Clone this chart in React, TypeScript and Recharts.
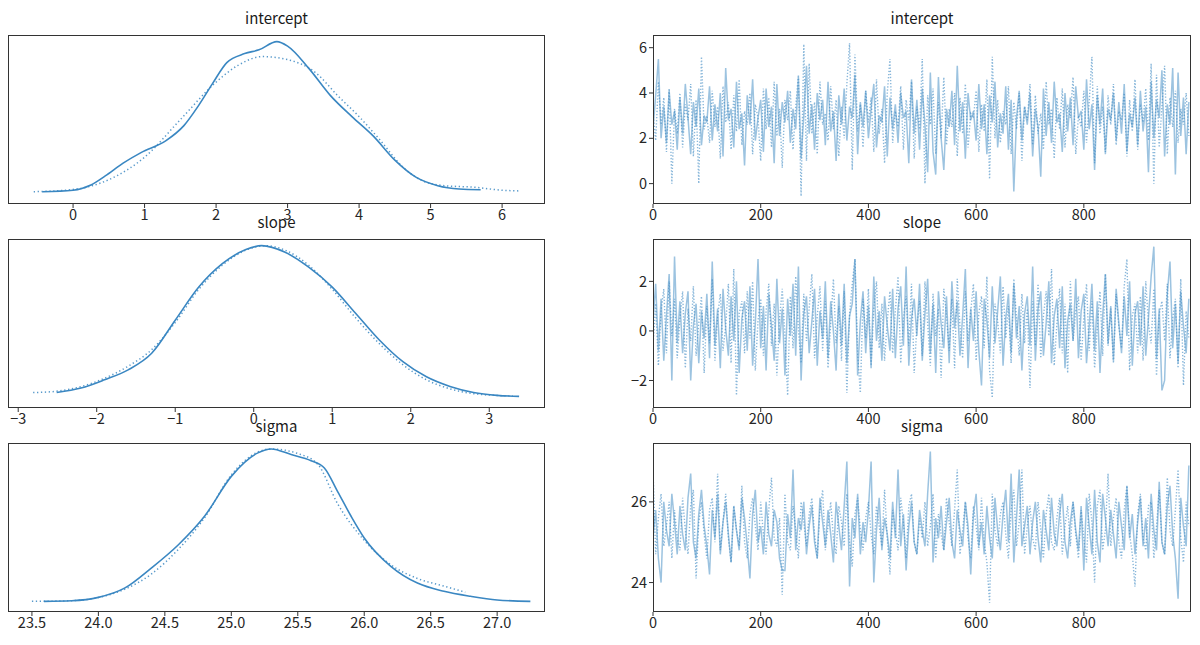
import React from 'react';
import { LineChart, Line, XAxis, YAxis } from 'recharts';

// ---- posterior density (relative height), chain 0 solid, chain 1 dotted ----
const interceptKdeX0 = [-0.43, 0.0, 0.25, 0.45, 0.7, 0.95, 1.3, 1.55, 1.75, 1.95, 2.15, 2.4, 2.6, 2.85, 3.0, 3.3, 3.6, 3.9, 4.2, 4.5, 4.8, 5.1, 5.4, 5.7];
const interceptKdeY0 = [0.0, 0.01, 0.045, 0.105, 0.19, 0.26, 0.34, 0.44, 0.57, 0.72, 0.86, 0.92, 0.945, 1.0, 0.97, 0.82, 0.64, 0.5, 0.37, 0.21, 0.095, 0.04, 0.018, 0.013];
const interceptKdeX1 = [-0.55, 0.0, 0.5, 1.0, 1.5, 2.0, 2.3, 2.65, 3.0, 3.4, 3.7, 4.0, 4.3, 4.6, 4.9, 5.2, 5.6, 6.0, 6.25];
const interceptKdeY1 = [0.0, 0.015, 0.08, 0.23, 0.48, 0.73, 0.84, 0.9, 0.88, 0.79, 0.64, 0.5, 0.34, 0.17, 0.07, 0.04, 0.03, 0.01, 0.005];

const slopeKdeX0 = [-2.51, -2.2, -1.9, -1.6, -1.3, -1.0, -0.7, -0.4, -0.1, 0.1, 0.4, 0.7, 1.0, 1.3, 1.6, 1.9, 2.2, 2.5, 2.8, 3.1, 3.38];
const slopeKdeY0 = [0.026, 0.055, 0.11, 0.176, 0.286, 0.505, 0.725, 0.88, 0.974, 1.0, 0.956, 0.857, 0.725, 0.55, 0.374, 0.23, 0.13, 0.066, 0.026, 0.007, 0.0];
const slopeKdeX1 = [-2.81, -2.5, -2.2, -1.9, -1.6, -1.3, -1.0, -0.7, -0.4, -0.1, 0.15, 0.4, 0.7, 1.0, 1.3, 1.6, 1.9, 2.2, 2.5, 2.8, 3.1, 3.3];
const slopeKdeY1 = [0.025, 0.035, 0.065, 0.12, 0.2, 0.31, 0.49, 0.71, 0.87, 0.97, 1.0, 0.97, 0.87, 0.71, 0.52, 0.35, 0.21, 0.11, 0.05, 0.018, 0.006, 0.002];

const sigmaKdeX0 = [23.59, 23.8, 24.0, 24.2, 24.4, 24.6, 24.8, 25.0, 25.2, 25.3, 25.45, 25.6, 25.7, 25.8, 25.9, 26.0, 26.2, 26.4, 26.6, 26.8, 27.0, 27.25];
const sigmaKdeY0 = [0.0, 0.004, 0.026, 0.088, 0.22, 0.37, 0.56, 0.82, 0.974, 1.0, 0.963, 0.923, 0.875, 0.72, 0.56, 0.416, 0.23, 0.12, 0.066, 0.033, 0.009, 0.0];
const sigmaKdeX1 = [23.5, 23.8, 24.0, 24.2, 24.4, 24.6, 24.8, 25.0, 25.2, 25.3, 25.5, 25.65, 25.8, 26.0, 26.2, 26.4, 26.6, 26.76];
const sigmaKdeY1 = [0.0, 0.004, 0.025, 0.08, 0.18, 0.34, 0.55, 0.83, 0.98, 1.0, 0.97, 0.9, 0.64, 0.4, 0.24, 0.15, 0.1, 0.06];

// ---- traces, every 5th draw ----
const DRAW_STEP = 5;

const interceptChain0 = [
  2.4, 3.9, 5.5, 2.0, 3.4, 1.8, 4.1, 2.6, 3.2, 1.5,
  3.8, 2.2, 4.4, 2.9, 1.3, 3.6, 2.5, 4.2, 1.7, 3.0,
  2.7, 4.3, 1.9, 3.5, 2.3, 4.0, 1.2, 5.1, 2.8, 3.3,
  1.6, 4.5, 2.4, 3.1, 0.8, 3.9, 2.6, 4.6, 1.9, 2.9,
  3.7, 1.4, 4.2, 2.5, 3.4, 0.9, 4.4, 2.1, 3.6, 2.7,
  4.1, 1.8, 3.3, 2.4, 4.7, 1.1, 3.0, 5.2, 2.2, 3.5,
  1.5, 4.0, 2.8, 3.7, 1.7, 4.5, 2.3, 3.2, 1.0, 3.9,
  2.6, 4.2, 1.9, 3.4, 2.9, 4.8, 1.3, 3.6, 2.5, 4.1,
  2.0, 3.3, 4.4, 1.6, 3.0, 2.7, 4.3, 1.2, 3.8, 2.4,
  3.5, 1.8, 4.0, 2.9, 3.2, 0.9, 4.6, 2.2, 3.7, 1.5,
  4.2, 2.6, 0.5, 4.9, 1.4, 0.4, 4.7, 2.0, 0.6, 3.3,
  2.5, 4.1, 1.7, 5.2, 2.3, 3.6, 1.1, 4.0, 2.8, 3.2,
  1.9, 4.4, 2.4, 3.5, 1.3, 3.9, 2.7, 4.5, 1.6, 3.1,
  2.2, 4.3, 1.5, 3.7, -0.35, 2.9, 4.1, 1.9, 3.4, 2.6,
  4.0, 1.2, 3.3, 2.5, 0.3, 4.2, 2.1, 3.6, 1.8, 4.5,
  2.7, 3.1, 1.4, 4.0, 2.3, 3.8, 1.7, 4.3, 2.9, 3.2,
  1.5, 4.6, 2.4, 3.5, 0.6, 3.9, 2.6, 4.2, 1.3, 3.3,
  2.8, 4.0, 1.9, 3.6, 2.2, 4.4, 1.4, 3.1, 2.5, 3.8,
  1.7, 4.1, 2.3, 3.4, 0.5, 4.5, 2.0, 3.7, 2.9, 5.0,
  1.2, 3.5, 2.6, 5.1, 0.4, 4.9, 2.1, 3.8, 1.3, 3.6,
];
const interceptChain1 = [
  3.1, 1.9, 4.5, 2.6, 3.8, 1.4, 4.2, 0.0, 3.3, 2.2,
  4.0, 1.6, 3.5, 2.8, 4.4, 1.2, 3.7, 0.0, 5.6, 2.4,
  3.0, 1.8, 4.1, 2.5, 3.4, 1.1, 4.3, 2.7, 3.6, 1.5,
  3.9, 2.3, 4.6, 1.7, 3.2, 2.6, 4.0, 1.3, 3.5, 2.9,
  1.0, 4.2, 2.4, 3.8, 1.6, 4.5, 2.1, 3.3, 0.7, 3.7,
  2.8, 4.1, 1.5, 3.4, 4.8, -0.55, 6.15, 1.0, 5.3, 2.2,
  3.6, 1.3, 4.5, 2.6, 3.1, 1.9, 4.3, 2.4, 3.7, 1.2,
  3.4, 2.0, 4.4, 6.2, 0.6, 5.7, 2.3, 3.5, 1.6, 4.1,
  2.7, 3.8, 1.4, 4.6, 2.2, 3.3, 0.9, 4.0, 5.5, 1.8,
  3.2, 2.5, 4.3, 1.5, 3.7, 2.8, 4.5, 1.1, 3.4, 2.4,
  5.5, 0.0, 3.9, 2.6, 4.2, 1.3, 3.6, 2.0, 4.7, 1.7,
  3.3, 2.5, 4.0, 1.2, 3.8, 2.2, 4.4, 1.6, 3.1, 2.9,
  4.1, 1.4, 3.5, 2.3, 4.6, 0.2, 5.6, 2.0, 3.7, 1.8,
  3.2, 2.6, 4.3, 1.3, 3.6, 2.4, 4.0, 1.0, 3.4, 2.8,
  4.4, 1.7, 3.9, 2.2, 3.1, 1.5, 4.5, 2.6, 3.3, 1.1,
  3.8, 2.4, 4.2, 1.6, 3.5, 2.9, 4.7, 1.3, 3.0, 2.5,
  4.1, 1.8, 3.6, 5.6, 0.9, 4.3, 2.2, 3.4, 1.4, 3.9,
  2.6, 4.4, 1.7, 3.2, 2.8, 4.0, 1.2, 3.7, 2.3, 4.6,
  1.5, 3.5, 2.7, 4.2, 1.9, 5.3, 0.0, 4.8, 1.6, 3.4,
  5.2, 1.3, 3.8, 2.5, 4.1, 1.8, 3.3, 2.6, 4.0, 2.1,
];

const slopeChain0 = [
  0.4, 1.9, -0.8, 1.3, -1.2, 0.6, 2.3, -2.0, 3.0, -0.5,
  1.2, -0.9, 0.7, 1.6, -2.0, 0.2, 1.1, -1.3, 0.8, -0.3,
  1.5, -1.1, 2.8, -0.6, 0.9, -1.5, 1.7, 0.1, -1.0, 1.4,
  -0.4, 2.0, -1.7, 0.5, 1.2, -0.8, 1.8, -1.4, 0.3, 2.9,
  -0.7, 1.0, -1.6, 1.5, 0.2, -1.2, 2.1, -0.5, 0.9, -1.8,
  1.3, -0.2, 1.9, -1.0, 2.6, -2.0, 0.7, 1.4, -0.9, 0.4,
  1.7, -1.4, 0.8, -0.3, 2.0, -1.1, 1.2, 0.0, -1.6, 1.5,
  -0.6, 1.9, -1.3, 0.6, 1.1, 2.9, -1.8, 0.4, 1.6, -0.9,
  1.0, -1.5, 2.2, -0.4, 0.8, -1.2, 1.4, 0.2, -0.8, 1.7,
  -1.1, 0.9, 1.8, -0.6, 2.6, -1.4, 0.5, 1.3, -0.2, 1.9,
  -1.2, 0.7, 2.1, -0.9, 1.1, -1.7, 1.6, 0.3, -0.7, 1.4,
  -1.3, 2.0, 0.1, 1.2, -1.0, 0.6, 2.5, -1.5, 0.9, -0.4,
  1.6, -0.8, -2.2, 1.3, 0.4, -1.1, 1.8, -0.5, 0.8, 2.2,
  -1.4, 0.5, 1.5, -0.9, 1.9, -0.3, 1.0, -1.6, 0.7, 1.4,
  -0.6, 2.6, -1.2, 0.9, 1.6, -1.0, 0.3, 2.0, -1.3, 0.6,
  1.3, -0.7, 1.8, -1.5, 0.4, 1.1, -0.4, 2.1, -1.1, 0.8,
  1.5, -1.3, 0.2, 1.9, -0.8, 1.2, -1.7, 0.6, 2.3, -0.5,
  1.0, -1.2, 1.7, 0.3, -0.9, 1.4, -0.2, 2.0, -1.4, 0.7,
  1.2, -0.6, 1.8, -1.0, 0.5, 2.2, 3.4, -1.1, 0.9, -2.4,
  -2.0, 1.5, 2.8, -0.7, 1.1, -1.3, 1.6, 0.2, -0.9, 1.3,
];
const slopeChain1 = [
  -0.6, 1.1, -1.4, 0.8, 1.7, -0.9, 2.0, -0.2, 1.3, -1.1,
  0.5, 1.6, -1.5, 0.9, -0.4, 1.8, -1.0, 0.3, 1.4, -1.7,
  1.0, -0.5, 2.1, -1.2, 0.6, 1.5, -0.8, 0.2, 1.9, -1.3,
  2.5, -2.6, 0.7, 1.2, -0.9, 1.6, -0.3, 2.0, -1.6, 0.4,
  1.3, -1.0, 0.8, 1.9, -0.6, 1.1, -1.8, 0.5, 1.7, -0.2,
  -2.6, 1.4, -0.7, 2.2, 0.1, -1.3, 1.5, -0.4, 0.9, 2.3,
  -1.1, 0.6, 1.8, -0.8, 1.2, -1.5, 0.3, 2.1, -0.5, 1.0,
  -1.2, 1.6, -2.5, 0.7, 1.9, 2.9, -0.9, -2.5, 1.3, -0.3,
  1.7, -1.4, 0.9, 2.0, -0.7, 1.1, -1.2, 0.4, 1.6, -0.9,
  0.8, 2.2, -1.3, 0.5, 1.4, -0.6, 1.9, -1.7, 0.2, 1.2,
  -1.0, 2.0, 0.3, -1.4, 1.5, -0.2, 0.9, -1.9, 1.7, 0.6,
  -0.8, 1.3, -1.5, 2.1, 0.2, -1.1, 1.6, -0.4, 0.8, 1.9,
  -1.2, 0.7, 1.4, -0.7, 2.2, -1.6, -2.7, 1.1, 0.4, -0.9,
  1.8, -0.3, 1.0, -1.3, 2.1, 0.5, -1.0, 1.5, -0.5, 0.9,
  -2.3, 1.2, -0.6, 1.9, -1.1, 0.6, 1.6, -0.2, 2.5, -1.4,
  0.3, 1.7, -0.9, 1.1, -1.7, 2.0, -0.4, 0.8, 1.4, -1.2,
  0.5, 1.9, -0.8, 1.2, -1.5, 0.1, 1.6, -1.0, 2.3, -0.6,
  0.9, -1.3, 1.5, 0.2, -0.7, 1.8, 2.9, -1.6, 0.6, 1.1,
  -0.9, 1.4, -1.2, 2.0, 0.3, -0.5, 1.7, -1.8, 0.7, 1.2,
  -0.4, 1.9, -1.1, 0.5, 1.3, -1.5, 2.1, -2.2, 0.8, -0.3,
];

const sigmaChain0 = [
  25.1, 25.8, 24.6, 24.0, 26.0, 25.3, 24.9, 26.2, 25.5, 24.7,
  25.9, 25.2, 24.8, 26.1, 26.7, 25.0, 24.6, 25.7, 26.3, 25.4,
  24.9, 24.2, 25.8, 25.1, 26.2, 24.7, 25.5, 26.0, 25.2, 24.5,
  25.9, 25.3, 24.8, 26.1, 25.6, 24.9, 24.1, 25.7, 26.3, 25.0,
  25.4, 24.7, 26.0, 25.2, 24.9, 25.8, 25.5, 24.6, 24.3, 24.3,
  25.7, 25.1, 26.8, 24.8, 25.6, 25.3, 26.0, 24.7, 25.4, 25.9,
  25.0, 24.6, 26.1, 25.5, 24.9, 25.8, 25.2, 24.5, 26.0, 25.4,
  24.8, 25.9, 27.0, 23.9, 25.6, 25.1, 26.2, 24.7, 25.5, 25.0,
  25.8, 27.0, 24.0, 25.3, 26.1, 24.8, 25.6, 25.2, 24.6, 26.0,
  25.1, 26.8, 24.9, 25.7, 24.3, 25.4, 26.0, 25.0, 24.7, 25.8,
  25.3, 24.9, 26.2, 27.25, 24.5, 25.6, 25.1, 25.9, 24.8, 25.5,
  26.1, 25.0, 24.6, 25.8, 25.3, 24.9, 26.0, 25.4, 24.2, 25.7,
  26.2, 24.9, 25.5, 24.7, 25.9, 25.1, 24.6, 26.1, 25.3, 24.8,
  25.7, 26.3, 25.0, 26.7, 24.5, 25.6, 26.8, 24.9, 25.4, 25.9,
  24.7, 25.5, 26.0, 25.1, 24.5, 25.8, 25.3, 24.8, 26.1, 25.2,
  24.9, 25.7, 26.2, 25.0, 24.6, 25.5, 26.0, 25.3, 24.8, 25.9,
  24.3, 26.1, 25.4, 24.7, 26.3, 25.0, 24.5, 26.2, 25.6, 24.9,
  25.8, 25.2, 24.6, 26.0, 25.4, 24.8, 26.4, 25.1, 25.7, 24.7,
  25.5, 26.1, 24.9, 25.6, 24.6, 26.2, 25.3, 24.8, 26.5, 25.0,
  24.7, 25.9, 26.4, 25.2, 24.6, 23.6, 26.1, 25.4, 24.9, 26.9,
];
const sigmaChain1 = [
  26.8, 24.7, 25.6, 26.2, 24.9, 25.4, 26.0, 24.6, 25.8, 25.1,
  24.8, 26.1, 25.3, 24.7, 25.9, 26.3, 24.1, 25.5, 26.0, 25.2,
  24.6, 25.8, 26.1, 25.0, 26.7, 24.8, 25.5, 26.2, 25.1, 24.5,
  25.9, 25.3, 24.9, 26.4, 25.0, 24.6, 25.7, 26.1, 25.4, 24.8,
  26.0, 25.2, 24.7, 25.8, 26.6, 25.1, 24.9, 25.6, 23.7, 26.2,
  25.0, 24.8, 25.9, 25.3, 24.6, 26.0, 25.5, 24.9, 25.7, 26.1,
  25.2, 24.6, 25.8, 26.3, 24.8, 25.4, 26.0, 25.1, 24.7, 25.9,
  25.5, 24.9, 26.2, 25.0, 24.4, 25.7, 26.1, 25.3, 24.8, 25.6,
  26.0, 25.2, 24.7, 25.9, 25.4, 24.9, 26.3, 25.1, 24.2, 25.8,
  25.3, 24.8, 26.1, 25.5, 24.6, 25.9, 26.2, 25.0, 24.7, 25.6,
  25.1, 26.0, 24.9, 25.4, 26.2, 24.6, 25.7, 25.2, 24.8, 26.1,
  25.5, 24.9, 25.8, 26.8, 24.7, 25.3, 26.0, 25.1, 24.6, 25.9,
  25.4, 24.8, 26.1, 25.0, 24.5, 23.5, 26.2, 25.3, 24.9, 25.7,
  26.0, 25.2, 24.6, 25.8, 26.3, 24.9, 25.5, 26.8, 24.7, 25.4,
  25.9, 25.1, 24.8, 26.0, 25.3, 24.6, 25.7, 26.2, 25.0, 24.8,
  25.6, 26.1, 24.7, 25.4, 25.9, 24.9, 26.0, 25.2, 24.6, 25.8,
  25.1, 24.5, 26.2, 25.5, 24.0, 25.9, 26.3, 24.8, 25.3, 26.7,
  24.9, 25.6, 26.1, 25.0, 24.6, 25.8, 26.4, 25.2, 24.7, 23.9,
  25.7, 26.2, 25.1, 24.8, 25.9, 26.0, 24.6, 25.4, 26.3, 25.0,
  24.7, 26.6, 25.3, 24.9, 25.8, 26.8, 25.1, 24.5, 26.0, 25.4,
];

// ---- axis ticks ----
const interceptTicks = [0, 1, 2, 3, 4, 5, 6];
const slopeTicks = [-3, -2, -1, 0, 1, 2, 3];
const sigmaTicks = [23.5, 24.0, 24.5, 25.0, 25.5, 26.0, 26.5, 27.0];
const drawTicks = [0, 200, 400, 600, 800];
const interceptTraceTicks = [0, 2, 4, 6];
const slopeTraceTicks = [-2, 0, 2];
const sigmaTraceTicks = [24, 26];

const BLUE = '#3a87c2';
const FONT = "'Noto Sans CJK JP', 'DejaVu Sans', sans-serif";
const AXIS_W = 46;
const AXIS_H = 30;
const PAD = 6;

const LEFT_X = 8;
const LEFT_W = 537;
const RIGHT_X = 653;
const RIGHT_W = 538;
const ROW_Y = [35, 239, 443];
const ROW_H = 169;

const minus = (s: string) => s.replace('-', '\u2212');
const fmtInt = (v: number) => minus(String(v));
const fmtOne = (v: number) => minus(v.toFixed(1));

const toKde = (xs: number[], ys: number[]) => xs.map((x, i) => ({ x, y: ys[i] }));
const toTrace = (a: number[], b: number[]) =>
  a.map((v, i) => ({ draw: i * DRAW_STEP, c0: v, c1: b[i] }));

const tickStyle = { fill: '#262626', fontSize: 14.5, fontFamily: FONT };

const Frame = ({ x, y, w, h }: { x: number; y: number; w: number; h: number }) => (
  <div
    style={{
      position: 'absolute', left: x, top: y, width: w, height: h,
      border: '1px solid #333', boxSizing: 'border-box', pointerEvents: 'none',
    }}
  />
);

const Title = ({ text, cx, y }: { text: string; cx: number; y: number }) => (
  <div
    style={{
      position: 'absolute', left: cx - 100, top: y, width: 200, textAlign: 'center',
      fontFamily: FONT, fontSize: 15, color: '#1a1a1a', lineHeight: '18px',
    }}
  >
    {text}
  </div>
);

interface KdeProps {
  y: number;
  d0: { x: number; y: number }[];
  d1: { x: number; y: number }[];
  xDomain: [number, number];
  yDomain: [number, number];
  ticks: number[];
  fmt: (v: number) => string;
}

const KdePanel = ({ y, d0, d1, xDomain, yDomain, ticks, fmt }: KdeProps) => (
  <div style={{ position: 'absolute', left: LEFT_X - AXIS_W, top: y - PAD }}>
    <LineChart
      width={LEFT_W + AXIS_W + PAD}
      height={ROW_H + PAD + AXIS_H}
      margin={{ top: PAD, right: PAD, bottom: 0, left: AXIS_W }}
    >
      <XAxis
        type="number"
        dataKey="x"
        domain={xDomain}
        ticks={ticks}
        tickFormatter={fmt}
        allowDataOverflow
        height={AXIS_H}
        axisLine={false}
        tickSize={4}
        tickLine={{ stroke: '#333' }}
        tick={tickStyle}
      />
      <YAxis type="number" dataKey="y" domain={yDomain} allowDataOverflow hide />
      <Line data={d0} dataKey="y" type="monotone" stroke={BLUE} strokeWidth={1.6} dot={false} isAnimationActive={false} />
      <Line data={d1} dataKey="y" type="monotone" stroke={BLUE} strokeOpacity={0.85} strokeWidth={1.5} strokeDasharray="1.3 2.6" dot={false} isAnimationActive={false} />
    </LineChart>
  </div>
);

interface TraceProps {
  y: number;
  data: { draw: number; c0: number; c1: number }[];
  yDomain: [number, number];
  yTicks: number[];
}

const TracePanel = ({ y, data, yDomain, yTicks }: TraceProps) => (
  <div style={{ position: 'absolute', left: RIGHT_X - AXIS_W, top: y - PAD }}>
    <LineChart
      width={RIGHT_W + AXIS_W + PAD}
      height={ROW_H + PAD + AXIS_H}
      data={data}
      margin={{ top: PAD, right: PAD, bottom: 0, left: 0 }}
    >
      <XAxis
        type="number"
        dataKey="draw"
        domain={[0, 999]}
        ticks={drawTicks}
        allowDataOverflow
        height={AXIS_H}
        axisLine={false}
        tickSize={4}
        tickLine={{ stroke: '#333' }}
        tick={tickStyle}
      />
      <YAxis
        type="number"
        domain={yDomain}
        ticks={yTicks}
        tickFormatter={fmtInt}
        allowDataOverflow
        width={AXIS_W}
        axisLine={false}
        tickSize={4}
        tickLine={{ stroke: '#333' }}
        tick={tickStyle}
      />
      <Line dataKey="c0" type="linear" stroke={BLUE} strokeOpacity={0.5} strokeWidth={1.5} dot={false} isAnimationActive={false} />
      <Line dataKey="c1" type="linear" stroke={BLUE} strokeOpacity={0.6} strokeWidth={1.4} strokeDasharray="1.3 1.8" dot={false} isAnimationActive={false} />
    </LineChart>
  </div>
);

const App = () => {
  const titles = ['intercept', 'slope', 'sigma'];
  return (
    <div style={{ position: 'absolute', left: 0, top: 0, width: 1200, height: 645, background: '#fff', overflow: 'hidden' }}>
      <KdePanel
        y={ROW_Y[0]}
        d0={toKde(interceptKdeX0, interceptKdeY0)}
        d1={toKde(interceptKdeX1, interceptKdeY1)}
        xDomain={[-0.91, 6.6]}
        yDomain={[-0.082, 1.044]}
        ticks={interceptTicks}
        fmt={fmtInt}
      />
      <KdePanel
        y={ROW_Y[1]}
        d0={toKde(slopeKdeX0, slopeKdeY0)}
        d1={toKde(slopeKdeX1, slopeKdeY1)}
        xDomain={[-3.13, 3.71]}
        yDomain={[-0.077, 1.044]}
        ticks={slopeTicks}
        fmt={fmtInt}
      />
      <KdePanel
        y={ROW_Y[2]}
        d0={toKde(sigmaKdeX0, sigmaKdeY0)}
        d1={toKde(sigmaKdeX1, sigmaKdeY1)}
        xDomain={[23.32, 27.36]}
        yDomain={[-0.07, 1.039]}
        ticks={sigmaTicks}
        fmt={fmtOne}
      />
      <TracePanel y={ROW_Y[0]} data={toTrace(interceptChain0, interceptChain1)} yDomain={[-0.9, 6.56]} yTicks={interceptTraceTicks} />
      <TracePanel y={ROW_Y[1]} data={toTrace(slopeChain0, slopeChain1)} yDomain={[-3.11, 3.71]} yTicks={slopeTraceTicks} />
      <TracePanel y={ROW_Y[2]} data={toTrace(sigmaChain0, sigmaChain1)} yDomain={[23.27, 27.46]} yTicks={sigmaTraceTicks} />

      {ROW_Y.map((ry) => (
        <React.Fragment key={`f${ry}`}>
          <Frame x={LEFT_X} y={ry} w={LEFT_W} h={ROW_H} />
          <Frame x={RIGHT_X} y={ry} w={RIGHT_W} h={ROW_H} />
        </React.Fragment>
      ))}
      {titles.map((t, i) => (
        <React.Fragment key={t}>
          <Title text={t} cx={LEFT_X + LEFT_W / 2} y={ROW_Y[i] - 26} />
          <Title text={t} cx={RIGHT_X + RIGHT_W / 2} y={ROW_Y[i] - 26} />
        </React.Fragment>
      ))}
    </div>
  );
};

export default App;
